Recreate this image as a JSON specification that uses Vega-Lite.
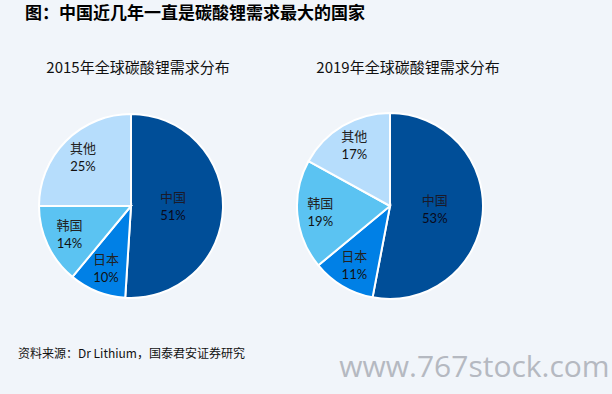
{
  "$schema": "https://vega.github.io/schema/vega-lite/v6.json",
  "background": "#f1f5fa",
  "padding": {"left": 18, "top": 5, "right": 8, "bottom": 24},
  "datasets": {
    "pies": [
      {"year": "2015", "country": "中国", "share": 0.51, "rank": 1},
      {"year": "2015", "country": "日本", "share": 0.10, "rank": 2},
      {"year": "2015", "country": "韩国", "share": 0.14, "rank": 3},
      {"year": "2015", "country": "其他", "share": 0.25, "rank": 4},
      {"year": "2019", "country": "中国", "share": 0.53, "rank": 1},
      {"year": "2019", "country": "日本", "share": 0.11, "rank": 2},
      {"year": "2019", "country": "韩国", "share": 0.19, "rank": 3},
      {"year": "2019", "country": "其他", "share": 0.17, "rank": 4}
    ]
  },
  "title": {
    "text": "图：中国近几年一直是碳酸锂需求最大的国家",
    "anchor": "start",
    "fontSize": 17,
    "fontWeight": "bold",
    "color": "#000000",
    "dx": 7,
    "offset": 38
  },
  "vconcat": [
    {
      "title": {
        "text": "www.767stock.com",
        "orient": "bottom",
        "anchor": "end",
        "font": "Open Sans",
        "fontSize": 30,
        "fontWeight": "normal",
        "color": "#b5b9c1",
        "dx": 110,
        "offset": -7
      },
      "vconcat": [
        {
          "title": {
            "text": "资料来源：Dr Lithium，国泰君安证券研究",
            "orient": "bottom",
            "anchor": "start",
            "fontSize": 12,
            "color": "#111111",
            "dx": -13,
            "offset": 43
          },
          "spacing": 59,
          "hconcat": [
            {
              "width": 200,
              "height": 200,
              "title": {"text": "2015年全球碳酸锂需求分布", "dx": 7, "offset": 30},
              "data": {"name": "pies"},
              "transform": [{"filter": "datum.year == '2015'"}],
              "encoding": {
                "theta": {"field": "share", "type": "quantitative", "stack": true},
                "order": {"field": "rank", "type": "quantitative"}
              },
              "layer": [
                {
                  "mark": {"type": "arc", "radius": 92, "stroke": "#ffffff", "strokeWidth": 2},
                  "encoding": {
                    "color": {
                      "field": "country",
                      "type": "nominal",
                      "scale": {"domain": ["中国", "日本", "韩国", "其他"], "range": ["#004e98", "#0080e6", "#5bc3f2", "#b6ddfc"]},
                      "legend": null
                    }
                  }
                },
                {
                  "mark": {"type": "text", "radius": 68, "dy": -9, "font": "Noto Sans CJK SC", "fontSize": 13, "color": "#222222"},
                  "encoding": {"text": {"condition": {"test": "datum.country !== '中国'", "field": "country", "type": "nominal"}, "value": ""}}
                },
                {
                  "mark": {"type": "text", "radius": 68, "dy": 9, "font": "Lato", "fontSize": 13, "color": "#111111"},
                  "encoding": {"text": {"condition": {"test": "datum.country !== '中国'", "field": "share", "type": "quantitative", "format": ".0%"}, "value": ""}}
                },
                {
                  "mark": {"type": "text", "radius": 42, "dy": -9, "font": "Noto Sans CJK SC", "fontSize": 13, "color": "#1a1a2a"},
                  "encoding": {"text": {"condition": {"test": "datum.country === '中国'", "field": "country", "type": "nominal"}, "value": ""}}
                },
                {
                  "mark": {"type": "text", "radius": 42, "dy": 9, "font": "Lato", "fontSize": 13, "color": "#0a0a1a"},
                  "encoding": {"text": {"condition": {"test": "datum.country === '中国'", "field": "share", "type": "quantitative", "format": ".0%"}, "value": ""}}
                }
              ]
            },
            {
              "width": 200,
              "height": 200,
              "title": {"text": "2019年全球碳酸锂需求分布", "dx": 18, "offset": 30},
              "data": {"name": "pies"},
              "transform": [{"filter": "datum.year == '2019'"}],
              "encoding": {
                "theta": {"field": "share", "type": "quantitative", "stack": true},
                "order": {"field": "rank", "type": "quantitative"}
              },
              "layer": [
                {
                  "mark": {"type": "arc", "radius": 93, "stroke": "#ffffff", "strokeWidth": 2},
                  "encoding": {
                    "color": {
                      "field": "country",
                      "type": "nominal",
                      "scale": {"domain": ["中国", "日本", "韩国", "其他"], "range": ["#004e98", "#0080e6", "#5bc3f2", "#b6ddfc"]},
                      "legend": null
                    }
                  }
                },
                {
                  "mark": {"type": "text", "radius": 70, "dy": -9, "font": "Noto Sans CJK SC", "fontSize": 13, "color": "#222222"},
                  "encoding": {"text": {"condition": {"test": "datum.country !== '中国'", "field": "country", "type": "nominal"}, "value": ""}}
                },
                {
                  "mark": {"type": "text", "radius": 70, "dy": 9, "font": "Lato", "fontSize": 13, "color": "#111111"},
                  "encoding": {"text": {"condition": {"test": "datum.country !== '中国'", "field": "share", "type": "quantitative", "format": ".0%"}, "value": ""}}
                },
                {
                  "mark": {"type": "text", "radius": 45, "dy": -9, "font": "Noto Sans CJK SC", "fontSize": 13, "color": "#1a1a2a"},
                  "encoding": {"text": {"condition": {"test": "datum.country === '中国'", "field": "country", "type": "nominal"}, "value": ""}}
                },
                {
                  "mark": {"type": "text", "radius": 45, "dy": 9, "font": "Lato", "fontSize": 13, "color": "#0a0a1a"},
                  "encoding": {"text": {"condition": {"test": "datum.country === '中国'", "field": "share", "type": "quantitative", "format": ".0%"}, "value": ""}}
                }
              ]
            }
          ]
        }
      ]
    }
  ],
  "config": {
    "view": {"stroke": null},
    "title": {"font": "Noto Sans CJK SC", "fontWeight": "normal", "fontSize": 15, "color": "#111111"}
  }
}
